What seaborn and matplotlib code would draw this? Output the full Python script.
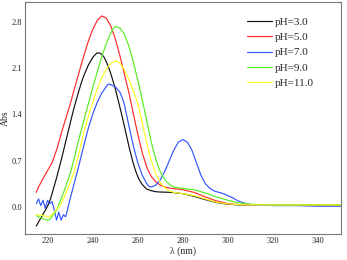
import numpy as np
import pandas as pd
import matplotlib
matplotlib.use('Agg')
import matplotlib.pyplot as plt
import seaborn as sns

# wavelength (nm) / absorbance
wl_black = [215, 216, 217, 218, 219, 220, 221, 222, 223, 224, 225, 226, 227, 228, 229, 230, 231, 232, 233, 234,
            235, 236, 237, 238, 239, 240, 241, 242, 243, 244, 245, 246, 247, 248, 249, 250, 251, 252, 253, 254,
            255, 256, 257, 258, 259, 260, 261, 262, 263, 264, 266, 268, 270, 275, 280, 285, 290, 295, 300, 305,
            310, 320, 330, 340, 350]
abs_black = [-0.29, -0.23, -0.17, -0.11, -0.05, 0.01, 0.09, 0.2, 0.32, 0.44, 0.57, 0.7, 0.84, 0.98, 1.12, 1.26, 1.4, 1.53, 1.65, 1.77,
             1.88, 1.98, 2.06, 2.14, 2.2, 2.26, 2.3, 2.33, 2.33, 2.31, 2.27, 2.2, 2.12, 2.02, 1.91, 1.79, 1.66, 1.52, 1.38, 1.23,
             1.08, 0.93, 0.79, 0.66, 0.55, 0.46, 0.39, 0.34, 0.3, 0.27, 0.245, 0.23, 0.225, 0.22, 0.2, 0.16, 0.11, 0.065, 0.04, 0.03,
             0.03, 0.03, 0.03, 0.03, 0.03]

wl_red = [215, 216, 218, 220, 222, 224, 226, 228, 230, 232, 234, 236, 238, 240, 242, 244, 246, 248, 250, 252, 254,
          256, 258, 260, 262, 264, 266, 268, 270, 272, 275, 280, 285, 290, 295, 300, 305, 310, 320, 330, 340, 350]
abs_red = [0.22, 0.3, 0.43, 0.55, 0.67, 0.86, 1.1, 1.33, 1.55, 1.8, 2.04, 2.28, 2.5, 2.68, 2.82, 2.89, 2.86, 2.74, 2.55, 2.3, 2.02,
           1.74, 1.42, 1.1, 0.82, 0.6, 0.46, 0.38, 0.33, 0.3, 0.28, 0.26, 0.22, 0.15, 0.09, 0.05, 0.035, 0.03, 0.03, 0.03, 0.03, 0.03]

wl_blue = [215, 216, 217, 218, 219, 220, 221, 222, 223, 224, 225, 226, 227, 228, 229, 230, 232, 234, 236, 238, 240,
           242, 244, 246, 247, 248, 250, 252, 253, 254, 256, 258, 260, 262, 264, 265, 266, 268, 270, 272, 274, 276,
           278, 280, 282, 284, 286, 288, 290, 292, 294, 296, 298, 300, 302, 304, 306, 308, 310, 320, 330, 340, 350]
abs_blue = [0.05, 0.12, 0.02, 0.1, -0.02, 0.1, 0.05, 0.08, -0.05, -0.2, -0.08, -0.2, -0.12, -0.15, -0.02, 0.12, 0.38, 0.64, 0.92, 1.18, 1.4,
            1.58, 1.72, 1.82, 1.86, 1.85, 1.82, 1.74, 1.66, 1.56, 1.24, 0.93, 0.67, 0.48, 0.35, 0.31, 0.3, 0.33, 0.41, 0.54, 0.7, 0.86,
            0.98, 1.02, 0.98, 0.86, 0.67, 0.48, 0.35, 0.28, 0.24, 0.22, 0.2, 0.17, 0.14, 0.1, 0.07, 0.05, 0.035, 0.02, 0.02, 0.01, 0.01]

wl_green = [215, 216, 218, 220, 221, 222, 224, 226, 228, 230, 232, 234, 236, 238, 240, 242, 244, 246, 248, 249, 250,
            252, 254, 256, 258, 260, 262, 264, 266, 268, 270, 272, 274, 276, 280, 285, 290, 295, 300, 305, 310, 320,
            330, 340, 350]
abs_green = [-0.13, -0.15, -0.18, -0.2, -0.19, -0.14, -0.05, 0.12, 0.3, 0.5, 0.76, 1.04, 1.3, 1.55, 1.8, 2.04, 2.27, 2.47, 2.63, 2.69, 2.73,
             2.71, 2.62, 2.44, 2.2, 1.92, 1.62, 1.3, 0.98, 0.72, 0.53, 0.41, 0.34, 0.3, 0.28, 0.26, 0.21, 0.15, 0.1, 0.06, 0.04, 0.03,
             0.03, 0.03, 0.03]

wl_yellow = [215, 218, 220, 221, 222, 224, 226, 228, 230, 232, 234, 236, 238, 240, 242, 244, 246, 248, 250, 252, 254,
             256, 258, 260, 262, 264, 266, 268, 270, 272, 274, 276, 280, 285, 290, 295, 300, 305, 310, 320, 330, 340, 350]
abs_yellow = [-0.12, -0.13, -0.15, -0.15, -0.11, -0.04, 0.04, 0.2, 0.36, 0.56, 0.82, 1.12, 1.36, 1.58, 1.78, 1.95, 2.08, 2.17, 2.21, 2.18, 2.08,
              1.93, 1.76, 1.57, 1.27, 0.96, 0.7, 0.5, 0.37, 0.29, 0.24, 0.22, 0.2, 0.17, 0.12, 0.07, 0.045, 0.035, 0.03, 0.03, 0.03, 0.03, 0.03]

labels = ['pH=3.0', 'pH=5.0', 'pH=7.0', 'pH=9.0', 'pH=11.0']
colors = ['#111111', '#ff2a2a', '#3355ff', '#55ee22', '#ffff22']

series = [(wl_black, abs_black), (wl_red, abs_red), (wl_blue, abs_blue),
          (wl_green, abs_green), (wl_yellow, abs_yellow)]
frames = []
for lab, (x, y) in zip(labels, series):
    frames.append(pd.DataFrame({'wl': x, 'abs': y, 'pH': lab}))
df = pd.concat(frames, ignore_index=True)

sns.set_style('white')
plt.rcParams['font.family'] = ['Liberation Serif', 'DejaVu Serif']

fig = plt.figure(figsize=(3.47, 2.60), dpi=100)
ax = fig.add_axes([0.072, 0.1, 0.91, 0.892])
sns.lineplot(data=df, x='wl', y='abs', hue='pH', palette=colors, hue_order=labels,
             linewidth=0.85, ax=ax, sort=False, estimator=None)

ax.set_xlim(210, 350)
ax.set_ylim(-0.41, 3.1)
ax.set_xticks(range(220, 341, 20))
ax.set_yticks([0.0, 0.7, 1.4, 2.1, 2.8])
ax.set_yticklabels(['0.0', '0.7', '1.4', '2.1', '2.8'])
ax.tick_params(direction='in', length=2, width=0.6, labelsize=6, pad=2, colors='#222222')
for s in ax.spines.values():
    s.set_color('#777777')
    s.set_linewidth(0.8)
ax.set_xlabel('λ (nm)', fontsize=7, labelpad=1)
ax.set_ylabel('Abs', fontsize=7, labelpad=1)

ax.legend(loc='upper left', bbox_to_anchor=(0.69, 0.955), frameon=False, fontsize=8,
          handlelength=2.2, handletextpad=0.3, labelspacing=0.5, borderaxespad=0)

plt.savefig('out.png', dpi=100)
